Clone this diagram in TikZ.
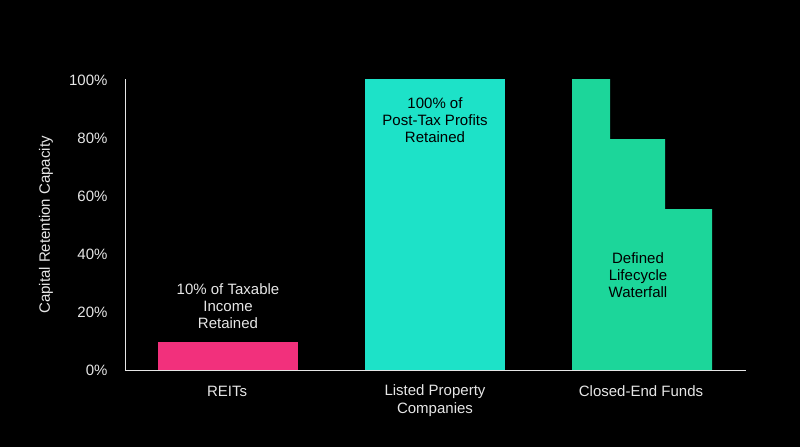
\documentclass[tikz,border=0pt]{standalone}
\usepackage{fontspec}
\setmainfont{Liberation Sans}
\definecolor{pinkb}{HTML}{F2307C}
\definecolor{cyanb}{HTML}{1DE2C8}
\definecolor{greenb}{HTML}{1CD69A}
\definecolor{txt}{HTML}{E6E6E6}
\begin{document}
\begin{tikzpicture}[x=1pt,y=-1pt,
  tick/.style={anchor=east,text=txt,font=\fontsize{15}{18}\selectfont},
  cat/.style={align=center,text=txt,font=\fontsize{15}{18}\selectfont},
  lbl/.style={align=center,font=\fontsize{15}{17}\selectfont}]
\fill[black] (0,0) rectangle (800,447);
\useasboundingbox (0,0) rectangle (800,447);
\fill[pinkb] (158,342) rectangle (298,370);
\fill[cyanb] (365,79) rectangle (505,370);
\fill[greenb] (572,79) -- (610,79) -- (610,139) -- (665,139) -- (665,209) -- (712,209) -- (712,370) -- (572,370) -- cycle;
\draw[txt,line width=1pt] (125,79) -- (125,370) -- (746,370);
\foreach \v/\y in {0/370,20/312,40/254,60/196,80/138,100/80}
  \node[tick] (t\v) at (111,\y) {\v\%};
\node[rotate=90,text=txt,font=\fontsize{15}{18}\selectfont] (ylab) at (46,225) {Capital Retention Capacity};
\node[cat] (c1) at (227,391) {REITs};
\node[cat] (c2) at (435,401) {Listed Property\\Companies};
\node[cat] (c3) at (641,391) {Closed-End Funds};
\node[lbl,text=txt] (l1) at (228,306) {10\% of Taxable\\Income\\Retained};
\node[lbl,text=black] (l2) at (435,120) {100\% of\\Post-Tax Profits\\Retained};
\node[lbl,text=black] (l3) at (638,275) {Defined\\Lifecycle\\Waterfall};
\end{tikzpicture}
\end{document}
